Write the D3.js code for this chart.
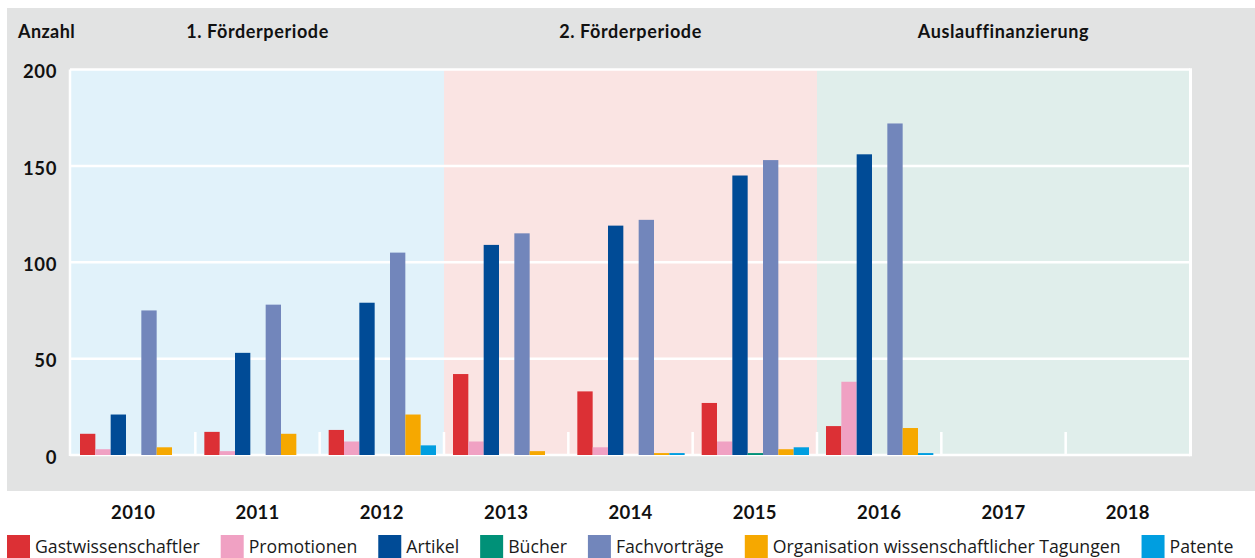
<!DOCTYPE html>
<html>
<head>
<meta charset="utf-8">
<script src="https://cdn.jsdelivr.net/npm/d3@7"></script>
<style>
    body { margin: 0; background: #ffffff; }
    svg { display: block; }
    .bold { font-family: Lato, "Open Sans", sans-serif; font-weight: 700; fill: #111; }
    .legend text { font-family: "Open Sans", "Noto Sans", sans-serif; font-size: 17.7px; fill: #1a1a1a; }
</style>
</head>
<body>
<svg id="chart" width="1255" height="558"></svg>
<script>

// data
var years = ["2010", "2011", "2012", "2013", "2014", "2015", "2016", "2017", "2018"];
var series = ["Gastwissenschaftler", "Promotionen", "Artikel", "Bücher", "Fachvorträge",
    "Organisation wissenschaftlicher Tagungen", "Patente"];
var gastwissenschaftler = [11, 12, 13, 42, 33, 27, 15, 0, 0];
var promotionen = [3, 2, 7, 7, 4, 7, 38, 0, 0];
var artikel = [21, 53, 79, 109, 119, 145, 156, 0, 0];
var buecher = [0, 0, 0, 0, 0, 1, 0, 0, 0];
var fachvortraege = [75, 78, 105, 115, 122, 153, 172, 0, 0];
var tagungen = [4, 11, 21, 2, 1, 3, 14, 0, 0];
var patente = [0, 0, 5, 0, 1, 4, 1, 0, 0];
var periods = ["1. Förderperiode", "2. Förderperiode", "Auslauffinanzierung"];
var periodYears = [["2010", "2012"], ["2013", "2015"], ["2016", "2018"]];
var yTicks = [0, 50, 100, 150, 200];

var values = [gastwissenschaftler, promotionen, artikel, buecher, fachvortraege, tagungen, patente];
var colors = ["#dc3035", "#f0a1c3", "#004b96", "#009178", "#7286bb", "#f6a800", "#009ee0"];
var periodColors = ["#e1f2fa", "#fae4e3", "#e0eeeb"];

var svg = d3.select("#chart");

var plotLeft = 71, plotRight = 1190, plotTop = 69.5, plotBottom = 455;

var x0 = d3.scaleBand()
    .domain(years)
    .range([plotLeft, plotRight])
    .padding(0);

var x1 = d3.scaleBand()
    .domain(series)
    .range([9, x0.bandwidth() - 8])
    .padding(0);

var y = d3.scaleLinear()
    .domain([0, 200])
    .range([plotBottom, plotTop]);

// grey panel
svg.append("rect")
    .attr("x", 7).attr("y", 8)
    .attr("width", 1248).attr("height", 483)
    .attr("fill", "#e2e3e3");

// period backgrounds
svg.selectAll(".period")
    .data(periods)
    .enter().append("rect")
    .attr("class", "period")
    .attr("x", function (d, i) { return x0(periodYears[i][0]); })
    .attr("y", plotTop)
    .attr("width", function (d, i) { return x0(periodYears[i][1]) + x0.bandwidth() - x0(periodYears[i][0]); })
    .attr("height", plotBottom - plotTop)
    .attr("fill", function (d, i) { return periodColors[i]; });

// period titles
svg.selectAll(".ptitle")
    .data(periods)
    .enter().append("text")
    .attr("class", "bold")
    .attr("x", function (d, i) { return (x0(periodYears[i][0]) + x0(periodYears[i][1]) + x0.bandwidth()) / 2; })
    .attr("y", 37.5)
    .attr("text-anchor", "middle")
    .style("font-size", "18px")
    .style("letter-spacing", "0.6px")
    .text(function (d) { return d; });

svg.append("text")
    .attr("class", "bold")
    .attr("x", 18).attr("y", 37.5)
    .style("font-size", "18px")
    .style("letter-spacing", "0.4px")
    .text("Anzahl");

// white grid lines
svg.selectAll(".grid")
    .data(yTicks)
    .enter().append("line")
    .attr("x1", plotLeft - 1).attr("x2", plotRight)
    .attr("y1", function (d) { return y(d); })
    .attr("y2", function (d) { return y(d); })
    .attr("stroke", "#ffffff")
    .attr("stroke-width", 2.5);

// frame sides
svg.append("line")
    .attr("x1", plotLeft - 1).attr("x2", plotLeft - 1)
    .attr("y1", plotTop).attr("y2", plotBottom + 1)
    .attr("stroke", "#ffffff").attr("stroke-width", 2.5);
svg.append("line")
    .attr("x1", plotRight + 0.5).attr("x2", plotRight + 0.5)
    .attr("y1", plotTop - 1.25).attr("y2", plotBottom + 1.25)
    .attr("stroke", "#ffffff").attr("stroke-width", 3);

// small separators between years
svg.selectAll(".sep")
    .data(years.slice(1))
    .enter().append("line")
    .attr("x1", function (d) { return x0(d); })
    .attr("x2", function (d) { return x0(d); })
    .attr("y1", y(0)).attr("y2", y(0) - 23)
    .attr("stroke", "#ffffff")
    .attr("stroke-width", 2.5);

// bars
var group = svg.selectAll(".year")
    .data(years)
    .enter().append("g")
    .attr("class", "year")
    .attr("transform", function (d) { return "translate(" + x0(d) + ",0)"; });

group.selectAll("rect")
    .data(function (d, i) {
        return series.map(function (s, j) { return { key: s, value: values[j][i], color: colors[j] }; });
    })
    .enter().append("rect")
    .attr("x", function (d) { return x1(d.key); })
    .attr("y", function (d) { return y(d.value); })
    .attr("width", x1.bandwidth())
    .attr("height", function (d) { return y(0) - y(d.value); })
    .attr("fill", function (d) { return d.color; });

// y axis
var yAxis = svg.append("g")
    .attr("transform", "translate(" + (plotLeft - 2) + ",0)")
    .call(d3.axisLeft(y).tickValues(yTicks).tickSize(0).tickPadding(12));
yAxis.select(".domain").remove();
yAxis.selectAll("text")
    .attr("class", "bold")
    .attr("dy", "0.45em")
    .style("font-size", "18.5px")
    .style("letter-spacing", "0.6px");

// x axis (year labels below the panel)
var xAxis = svg.append("g")
    .attr("transform", "translate(0,491)")
    .call(d3.axisBottom(x0).tickSize(0).tickPadding(15));
xAxis.select(".domain").remove();
xAxis.selectAll("text")
    .attr("class", "bold")
    .style("font-size", "18.5px")
    .style("letter-spacing", "0.3px");

// legend
var legend = svg.append("g").attr("class", "legend");
var lx = 7;
series.forEach(function (s, i) {
    var item = legend.append("g").attr("transform", "translate(" + lx + ",0)");
    item.append("rect")
        .attr("x", 0).attr("y", 535)
        .attr("width", 23).attr("height", 23)
        .attr("fill", colors[i]);
    var t = item.append("text")
        .attr("x", 28).attr("y", 553)
        .text(s);
    lx += 28 + t.node().getComputedTextLength() + 21;
});

</script>
</body>
</html>
